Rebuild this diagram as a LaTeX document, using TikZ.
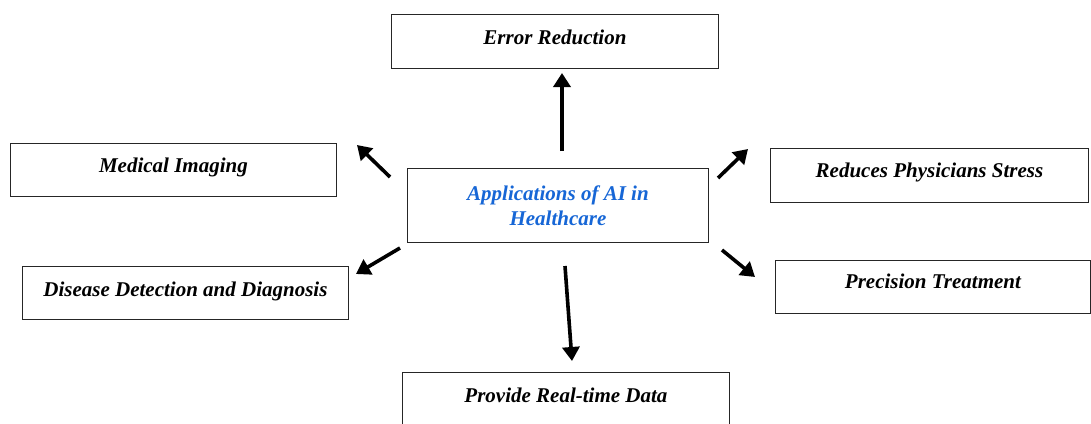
\documentclass[tikz,border=0pt]{standalone}
\usepackage{fontspec}
\setmainfont{Liberation Serif}
\usetikzlibrary{arrows.meta}
\definecolor{aiblue}{RGB}{22,102,214}
\begin{document}
\begin{tikzpicture}[x=1pt,y=-1pt,
  box/.style={draw=black!85,line width=0.9pt,inner sep=0pt,anchor=north west,
    font=\fontsize{21}{24}\selectfont\bfseries\itshape},
  arr/.style={line width=3.6pt,-{Triangle[length=14pt,width=17pt]}}]
\useasboundingbox (0,0) rectangle (1091,423);
\fill[white] (0,0) rectangle (1091,423);
% boxes
\node[box,minimum width=327pt,text height=30pt,text depth=24pt] (err) at (391,14) {Error Reduction};
\node[box,minimum width=326pt,text height=29pt,text depth=24pt] (med) at (10,143) {Medical Imaging};
\node[box,minimum width=318pt,text height=29pt,text depth=25pt] (phy) at (770,148) {Reduces Physicians Stress};
\node[box,minimum width=326pt,text height=30pt,text depth=23pt] (dis) at (22,266) {Disease Detection and Diagnosis};
\node[box,minimum width=315pt,text height=28pt,text depth=25pt] (pre) at (775,260) {Precision Treatment};
\node[box,minimum width=327pt,text height=30pt,text depth=25pt] (rt) at (402,372) {Provide Real-time Data};
\node[box,minimum width=301pt,minimum height=74pt,align=center,text=aiblue,
  font=\fontsize{21}{25}\selectfont\bfseries\itshape] (ai) at (407,168) {Applications of AI in\\Healthcare};
% arrow end points
\coordinate (t1) at (562,151); \coordinate (h1) at (562,73);
\coordinate (t2) at (390,177); \coordinate (h2) at (357,145);
\coordinate (t3) at (718,178); \coordinate (h3) at (748,149);
\coordinate (t4) at (400,248); \coordinate (h4) at (356,274);
\coordinate (t5) at (722,250); \coordinate (h5) at (755,277);
\coordinate (t6) at (565,266); \coordinate (h6) at (572,361);
\draw[arr] (t1) -- (h1);
\draw[arr] (t2) -- (h2);
\draw[arr] (t3) -- (h3);
\draw[arr] (t4) -- (h4);
\draw[arr] (t5) -- (h5);
\draw[arr] (t6) -- (h6);
\end{tikzpicture}
\end{document}
